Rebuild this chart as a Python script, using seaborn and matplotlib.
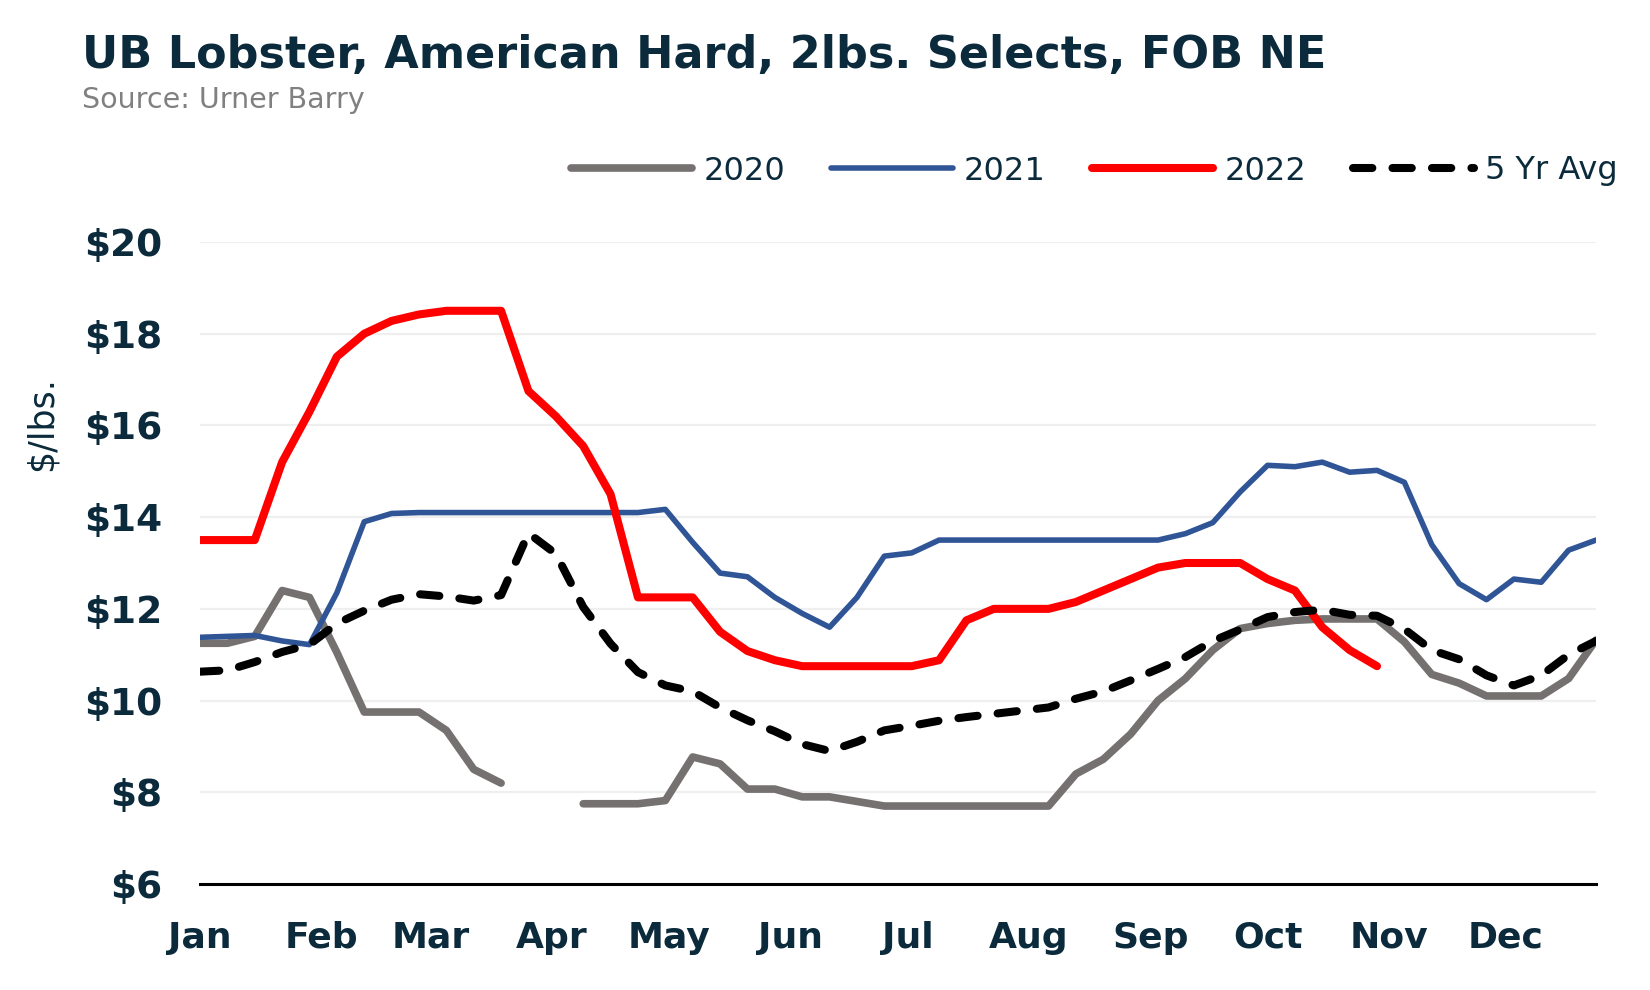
import numpy as np
import pandas as pd
import matplotlib
matplotlib.use("Agg")
import matplotlib.pyplot as plt
import seaborn as sns
from matplotlib.lines import Line2D

nan = np.nan

# weekly prices ($/lbs.), week index 0..51
weeks = list(range(52))

price_2020 = [11.25, 11.25, 11.4, 12.4, 12.25, 11.05, 9.75, 9.75, 9.75, 9.35,
              8.5, 8.2, nan, nan, 7.75, 7.75, 7.75, 7.82, 8.77, 8.62,
              8.07, 8.07, 7.9, 7.9, 7.8, 7.7, 7.7, 7.7, 7.7, 7.7,
              7.7, 7.7, 8.4, 8.72, 9.27, 10.0, 10.48, 11.1, 11.57, 11.68,
              11.75, 11.78, 11.78, 11.78, 11.28, 10.57, 10.38, 10.1, 10.1, 10.1,
              10.48, 11.32]

price_2021 = [11.38, 11.4, 11.42, 11.3, 11.22, 12.35, 13.9, 14.08, 14.1, 14.1,
              14.1, 14.1, 14.1, 14.1, 14.1, 14.1, 14.1, 14.17, 13.45, 12.78,
              12.7, 12.25, 11.9, 11.6, 12.25, 13.15, 13.22, 13.5, 13.5, 13.5,
              13.5, 13.5, 13.5, 13.5, 13.5, 13.5, 13.64, 13.88, 14.55, 15.13,
              15.1, 15.2, 14.98, 15.02, 14.76, 13.4, 12.55, 12.2, 12.65, 12.58,
              13.28, 13.5]

price_2022 = [13.5, 13.5, 13.5, 15.2, 16.3, 17.5, 18.0, 18.28, 18.42, 18.5,
              18.5, 18.5, 16.75, 16.2, 15.55, 14.5, 12.25, 12.25, 12.25, 11.5,
              11.08, 10.88, 10.75, 10.75, 10.75, 10.75, 10.75, 10.88, 11.75, 12.0,
              12.0, 12.0, 12.15, 12.4, 12.65, 12.9, 13.0, 13.0, 13.0, 12.65,
              12.4, 11.6, 11.1, 10.75, nan, nan, nan, nan, nan, nan,
              nan, nan]

price_5yr = [10.63, 10.66, 10.84, 11.06, 11.22, 11.68, 11.96, 12.2, 12.32, 12.27,
             12.18, 12.3, 13.65, 13.2, 12.04, 11.24, 10.62, 10.33, 10.2, 9.85,
             9.57, 9.33, 9.05, 8.9, 9.1, 9.35, 9.45, 9.56, 9.64, 9.71,
             9.78, 9.85, 10.04, 10.2, 10.44, 10.69, 10.95, 11.3, 11.55, 11.82,
             11.93, 11.98, 11.87, 11.85, 11.56, 11.1, 10.9, 10.55, 10.33, 10.55,
             11.0, 11.3]

month_labels = ["Jan", "Feb", "Mar", "Apr", "May", "Jun",
                "Jul", "Aug", "Sep", "Oct", "Nov", "Dec"]
month_start_day = [0, 31, 59, 90, 120, 151, 181, 212, 243, 273, 304, 334]
y_ticks = [6, 8, 10, 12, 14, 16, 18, 20]

navy = "#0B2A3C"
series = [
    ("2020", price_2020, "#767171", 5.5, "-"),
    ("2021", price_2021, "#2F5597", 4.0, "-"),
    ("2022", price_2022, "#FF0000", 5.8, "-"),
    ("5 Yr Avg", price_5yr, "#000000", 5.8, (0, (2.4, 2.5))),
]

sns.set_style("white")
plt.rcParams["font.family"] = ["DejaVu Sans"]

fig = plt.figure(figsize=(16.5, 9.9), dpi=100)
ax = fig.add_axes([200 / 1650, 1 - 884 / 990, 1396 / 1650, 642 / 990])

handles = []
for name, vals, color, lw, ls in series:
    df = pd.DataFrame({"day": [7 * w for w in weeks], "price": vals})
    df["seg"] = df["price"].isna().cumsum()
    df = df.dropna()
    sns.lineplot(data=df, x="day", y="price", units="seg", estimator=None,
                 color=color, lw=lw, linestyle=ls, ax=ax, legend=False,
                 solid_capstyle="round", dash_capstyle="round",
                 solid_joinstyle="round")
    handles.append(Line2D([0], [0], color=color, lw=lw, linestyle=ls,
                          solid_capstyle="round", dash_capstyle="round"))

ax.set_xlim(0, 357)
ax.set_ylim(6, 20)
ax.set_xticks(month_start_day)
ax.set_xticklabels(month_labels)
ax.set_yticks(y_ticks)
ax.set_yticklabels([f"${v}" for v in y_ticks])

ax.yaxis.grid(True, color="#EFEFEF", lw=1.6)
ax.set_axisbelow(True)
for side in ["left", "right", "top"]:
    ax.spines[side].set_visible(False)
ax.spines["bottom"].set_color("black")
ax.spines["bottom"].set_linewidth(2.2)

ax.tick_params(axis="x", direction="out", length=9.5, width=2, color="black",
               pad=17, labelsize=26, labelcolor=navy)
ax.tick_params(axis="y", length=0, pad=27, labelsize=27, labelcolor=navy)
for lab in ax.get_xticklabels() + ax.get_yticklabels():
    lab.set_fontweight("bold")

ax.set_xlabel("")
ax.set_ylabel("$/lbs.", fontsize=25, color=navy)
ax.yaxis.set_label_coords(-0.101, 0.7165)

ax.legend(handles, [s[0] for s in series], loc="center right",
          bbox_to_anchor=(1618 / 1650, 1 - 171 / 990), bbox_transform=fig.transFigure,
          ncol=4, frameon=False, fontsize=23, handlelength=3.8,
          handletextpad=0.35, columnspacing=1.45, borderpad=0, borderaxespad=0,
          labelcolor=navy)

fig.text(82 / 1650, 1 - 68 / 990, "UB Lobster, American Hard, 2lbs. Selects, FOB NE",
         fontsize=32, fontweight="bold", color=navy, va="baseline")
fig.text(82 / 1650, 1 - 108 / 990, "Source: Urner Barry",
         fontsize=20.5, color="#808080", va="baseline")

fig.savefig("out.png", dpi=100)
